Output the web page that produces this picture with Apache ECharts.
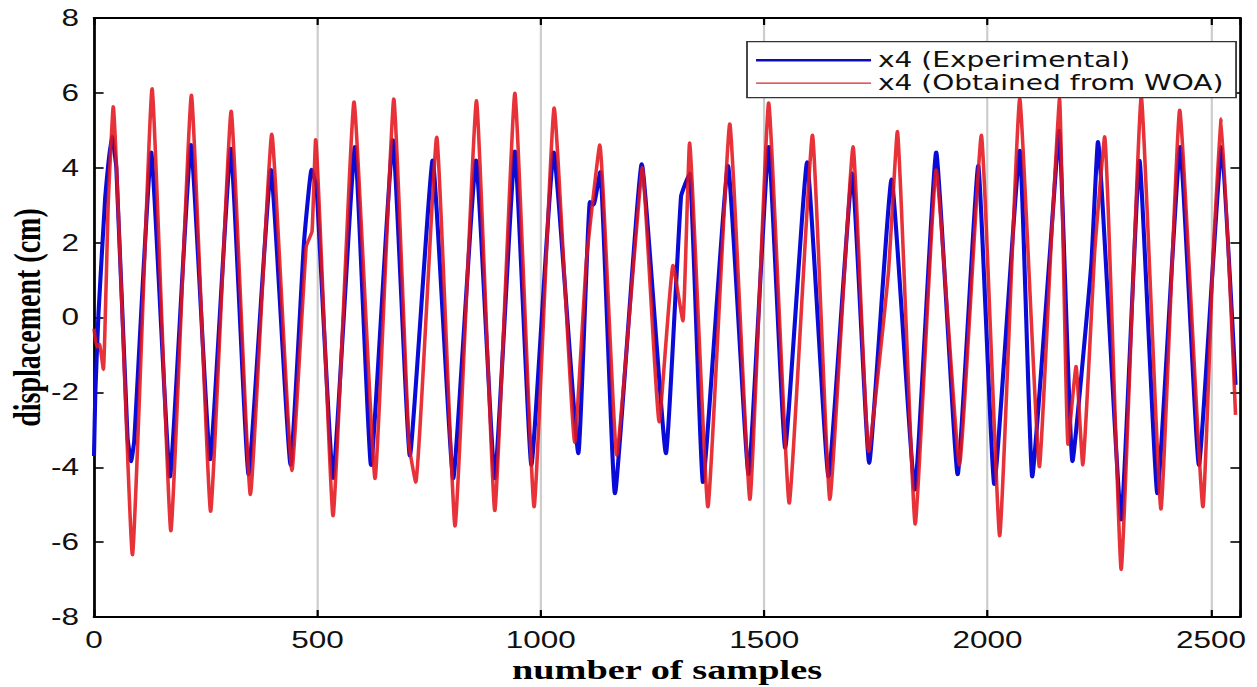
<!DOCTYPE html>
<html>
<head>
<meta charset="utf-8">
<script src="https://cdn.jsdelivr.net/npm/echarts@6/dist/echarts.min.js"></script>
<style>
html,body{margin:0;padding:0;background:#fff;}
#wrap{width:1257px;height:687px;overflow:hidden;position:relative;background:#fff;}
#chart{width:918px;height:687px;transform:scaleX(1.36928);transform-origin:0 0;}
</style>
</head>
<body>
<div id="wrap"><div id="chart"></div></div>
<script>
// ---- data ----
const xTickLabels = [0, 500, 1000, 1500, 2000, 2500];
const yTickLabels = [-8, -6, -4, -2, 0, 2, 4, 6, 8];

const expSamples = [0, 3, 10, 25, 32, 40, 50, 75, 83, 90, 128, 170, 217, 260, 306, 346, 396, 440, 470, 487, 498, 535, 584, 620, 669, 707, 758, 804, 855, 897, 942, 979, 1029, 1084, 1110, 1118, 1133, 1166, 1226, 1280, 1314, 1333, 1363, 1419, 1465, 1510, 1547, 1596, 1644, 1697, 1735, 1785, 1837, 1885, 1933, 1979, 2015, 2072, 2100, 2140, 2160, 2190, 2232, 2247, 2299, 2340, 2380, 2431, 2473, 2524, 2555];
const expValues  = [-3.7, -2.0, 0.1, 3.2, 4.1, 4.85, 4.0, -3.2, -3.85, -3.3, 4.42, -4.26, 4.62, -3.8, 4.52, -4.2, 3.95, -3.95, 2.0, 3.96, 3.5, -4.3, 4.57, -3.95, 4.75, -3.7, 4.21, -4.31, 4.21, -4.31, 4.45, -3.95, 4.42, -3.64, 3.1, 3.0, 3.9, -4.71, 4.11, -3.64, 3.24, 3.86, -4.41, 4.06, -4.2, 4.57, -3.49, 4.16, -4.26, 3.86, -3.9, 3.7, -4.61, 4.42, -4.2, 4.06, -4.46, 4.47, -4.26, 1.8, 5.0, -3.85, 1.4, 4.7, -5.41, 4.2, -4.71, 4.57, -3.95, 4.57, -1.8];

const woaSamples = [0, 6, 12, 21, 32, 43, 86, 130, 172, 218, 261, 307, 350, 398, 443, 475, 488, 496, 535, 582, 629, 671, 705, 720, 767, 808, 856, 897, 942, 985, 1030, 1076, 1102, 1132, 1170, 1211, 1227, 1265, 1296, 1318, 1333, 1374, 1423, 1468, 1510, 1556, 1608, 1647, 1699, 1734, 1778, 1798, 1838, 1885, 1937, 1986, 2027, 2072, 2116, 2142, 2161, 2180, 2198, 2213, 2240, 2262, 2299, 2344, 2388, 2430, 2482, 2505, 2523, 2555];
const woaValues  = [-0.3, -0.8, -0.7, -1.4, 3.1, 5.64, -6.35, 6.12, -5.71, 5.95, -5.19, 5.52, -4.74, 4.91, -4.10, 1.9, 2.3, 4.76, -5.31, 5.77, -4.31, 5.85, -3.4, -4.41, 4.83, -5.58, 5.80, -5.17, 6.0, -5.07, 5.61, -3.35, 1.5, 4.62, -3.69, 1.9, 4.01, -2.8, 1.4, -0.1, 4.67, -5.07, 5.18, -4.87, 5.74, -4.97, 4.88, -4.87, 4.57, -3.59, 1.2, 4.98, -5.53, 3.95, -3.95, 4.88, -5.84, 5.85, -4.0, 1.9, 5.85, -3.4, -1.3, -3.95, 1.8, 4.84, -6.74, 5.9, -5.13, 5.55, -5.07, 1.7, 5.32, -2.6];

const seriesNames = ['x4 (Experimental)', 'x4 (Obtained from WOA)'];

// ---- chart ----
const zip = (xs, ys) => xs.map((x, i) => [x, ys[i]]);
const chart = echarts.init(document.getElementById('chart'), null, {renderer: 'svg'});

const tickFont = {fontFamily: "'Liberation Sans', Arial, sans-serif", fontSize: 23, color: '#111'};
const nameFont = {fontFamily: "'Liberation Serif', 'Times New Roman', serif", fontWeight: 'bold', fontSize: 28, color: '#000'};
const axisLine = {show: true, onZero: false, lineStyle: {color: '#000', width: 2}};
const tickStyle = {show: true, inside: true, length: 7, lineStyle: {color: '#000', width: 1.6}};
// legend line icons: thin band in the middle of the icon box, corner dots fix the box size
const bandIcon = (y0, y1) => 'path://M0,0h0.01v0.01h-0.01Z M0,' + y0 + 'H100V' + y1 + 'H0Z M99.99,13.99h0.01v0.01h-0.01Z';

chart.setOption({
  animation: false,
  backgroundColor: '#fff',
  grid: {left: 68.65, right: 12.4, top: 18, bottom: 70, containLabel: false, outerBoundsMode: 'none'},
  legend: {
    orient: 'vertical',
    right: 15.3,
    top: 41.7,
    itemWidth: 84,
    itemHeight: 14,
    itemGap: 2,
    padding: [8, 9, 4, 6.6],
    borderColor: '#333',
    borderWidth: 1.3,
    backgroundColor: '#fff',
    textStyle: {fontFamily: "'DejaVu Sans', sans-serif", fontSize: 20.5, color: '#111'},
    data: [
      {name: seriesNames[0], icon: bandIcon(5.6, 8.4), itemStyle: {color: '#0b0bb8', opacity: 1}},
      {name: seriesNames[1], icon: bandIcon(6.3, 7.7), itemStyle: {color: '#d42a2a', opacity: 1}}
    ]
  },
  xAxis: [{
    type: 'value', min: 0, max: 2565, interval: 500, position: 'bottom',
    axisLine: axisLine, axisTick: tickStyle,
    axisLabel: Object.assign({margin: 12, formatter: v => xTickLabels.includes(v) ? String(v) : ''}, tickFont),
    splitLine: {show: true, lineStyle: {color: '#cdcdcd', width: 1.6}},
    name: 'number of samples', nameLocation: 'middle', nameGap: 38, nameMoveOverlap: false, nameTextStyle: nameFont
  }, {
    type: 'value', min: 0, max: 2565, interval: 500, position: 'top',
    axisLine: axisLine, axisTick: tickStyle, axisLabel: {show: false}, splitLine: {show: false}
  }],
  yAxis: [{
    type: 'value', min: -8, max: 8, interval: 2, position: 'left',
    axisLine: axisLine, axisTick: tickStyle,
    axisLabel: Object.assign({margin: 11, formatter: v => yTickLabels.includes(v) ? String(v) : ''}, tickFont),
    splitLine: {show: false},
    name: 'displacement (cm)', nameLocation: 'middle', nameGap: 35, nameRotate: 90, nameMoveOverlap: false, nameTextStyle: nameFont
  }, {
    type: 'value', min: -8, max: 8, interval: 2, position: 'right',
    axisLine: axisLine, axisTick: tickStyle, axisLabel: {show: false}, splitLine: {show: false}
  }],
  series: [{
    name: seriesNames[0], type: 'line', xAxisIndex: 0, yAxisIndex: 0,
    data: zip(expSamples, expValues),
    symbol: 'none', showSymbol: false, smooth: 0.12,
    lineStyle: {color: '#0b0bd8', width: 3},
    itemStyle: {color: '#0b0bd8'},
    z: 2
  }, {
    name: seriesNames[1], type: 'line', xAxisIndex: 0, yAxisIndex: 0,
    data: zip(woaSamples, woaValues),
    symbol: 'none', showSymbol: false, smooth: 0.12,
    lineStyle: {color: '#e3161c', width: 2.6, opacity: 0.88},
    itemStyle: {color: '#e3161c'},
    z: 3
  }]
});
</script>
</body>
</html>
